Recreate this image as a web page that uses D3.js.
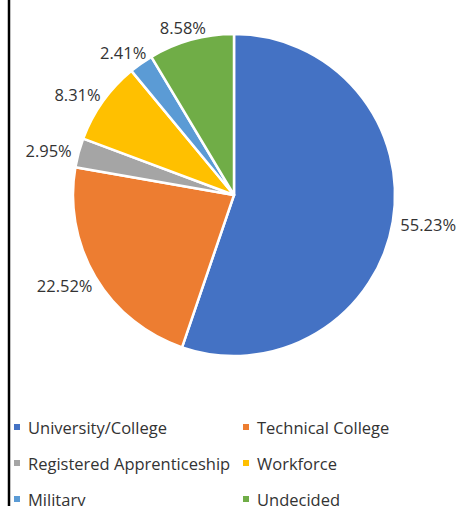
<!DOCTYPE html>
<html>
<head>
<meta charset="utf-8">
<script src="https://cdn.jsdelivr.net/npm/d3@7"></script>
<style>
  body { margin: 0; background: #fff; }
  svg { display: block; }
</style>
</head>
<body>
<div class="chart"></div>
<script>
// Data
var categories = ["University/College", "Technical College", "Registered Apprenticeship", "Workforce", "Military", "Undecided"];
var shares = [55.23, 22.52, 2.95, 8.31, 2.41, 8.58];
var colors = ["#4472C4", "#ED7D31", "#A5A5A5", "#FFC000", "#5B9BD5", "#70AD47"];

var width = 468;
var height = 506;
var cx = 234, cy = 195, radius = 161;
var fontFace = "'Open Sans', sans-serif";
var textColor = "#333333";

var data = categories.map((c, i) => ({ name: c, value: shares[i], color: colors[i] }));

const svg = d3.select("div.chart")
    .append("svg")
    .attr("width", width)
    .attr("height", height);

// Left frame line
svg.append("line")
    .attr("x1", 9).attr("x2", 9)
    .attr("y1", 0).attr("y2", height)
    .attr("stroke", "#000")
    .attr("stroke-width", 2.5);

var pie = d3.pie()
    .sort(null)
    .value(d => d.value);

var arc = d3.arc()
    .innerRadius(0)
    .outerRadius(radius);

var arcs = pie(data);

var g = svg.append("g")
    .attr("transform", `translate(${cx},${cy})`);

// Slices
g.selectAll("path")
    .data(arcs)
    .join("path")
        .attr("d", arc)
        .attr("fill", d => d.data.color)
        .attr("stroke", "#fff")
        .attr("stroke-width", 2.5)
        .attr("stroke-linejoin", "round");

// Outside-end labels, pushed out along the slice's mid angle
var labelFont = 16.5;
var labelH = labelFont * 0.75;
var measure = document.createElement("canvas").getContext("2d");
measure.font = labelFont + "px " + fontFace;

g.selectAll("text.lbl")
    .data(arcs)
    .join("text")
        .attr("class", "lbl")
        .attr("font-family", fontFace)
        .attr("font-size", labelFont)
        .attr("fill", textColor)
        .attr("text-anchor", "middle")
        .attr("dominant-baseline", "central")
        .text(d => d3.format(".2f")(d.data.value) + "%")
        .each(function (d) {
            var a = (d.startAngle + d.endAngle) / 2;
            var s = Math.sin(a), c = -Math.cos(a);
            var w = measure.measureText(this.textContent).width;
            var r = radius + 8;
            d3.select(this)
                .attr("x", r * s + s * w / 2)
                .attr("y", r * c + c * labelH / 2 + 1);
        });

// Legend, two columns
var legendFont = 16.5;
var colX = [14, 243];
var rowY = 427, rowStep = 36, box = 6;

var legend = svg.append("g")
    .selectAll("g")
    .data(data)
    .join("g")
        .attr("transform", (d, i) => `translate(${colX[i % 2]},${rowY + Math.floor(i / 2) * rowStep})`);

legend.append("rect")
    .attr("x", 0)
    .attr("y", -box / 2)
    .attr("width", box)
    .attr("height", box)
    .attr("fill", d => d.color);

legend.append("text")
    .attr("x", box + 8)
    .attr("y", 0)
    .attr("dominant-baseline", "central")
    .attr("font-family", fontFace)
    .attr("font-size", legendFont)
    .attr("fill", textColor)
    .text(d => d.name);
</script>
</body>
</html>
